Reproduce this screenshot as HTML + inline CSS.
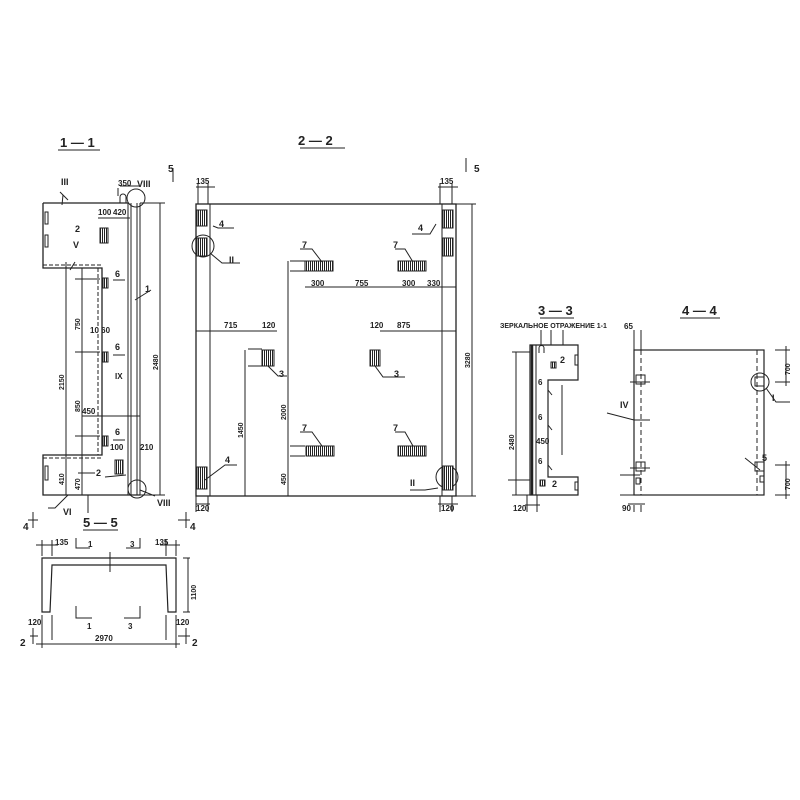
<!DOCTYPE html>
<html><head><meta charset="utf-8"><style>
html,body{margin:0;padding:0;background:#fff}
svg{display:block}
text{font-family:"Liberation Sans",sans-serif;font-weight:bold;fill:#222}
</style></head><body>
<svg width="800" height="800" viewBox="0 0 800 800" xmlns="http://www.w3.org/2000/svg">
<defs>
<pattern id="h" width="2" height="4" patternUnits="userSpaceOnUse"><rect width="2" height="4" fill="#fff"/><line x1="0.5" y1="0" x2="0.5" y2="4" stroke="#222" stroke-width="1"/></pattern>
</defs>
<g stroke="#222" stroke-width="1" fill="none">
<!-- 1-1 -->
<line x1="58" y1="150" x2="100" y2="150"/>
<path d="M43 203 H128 M43 203 V268 H102 V455 H43 V495 H140" stroke-width="1.3"/>
<line x1="98" y1="268" x2="98" y2="455" stroke-dasharray="4 2"/>
<line x1="43" y1="265" x2="102" y2="265" stroke-dasharray="4 2"/>
<line x1="43" y1="458" x2="102" y2="458" stroke-dasharray="4 2"/>
<line x1="128" y1="203" x2="128" y2="495"/><line x1="131" y1="203" x2="131" y2="495"/>
<line x1="137" y1="203" x2="137" y2="495"/><line x1="140" y1="203" x2="140" y2="495"/>
<circle cx="136" cy="198" r="9"/><circle cx="137" cy="489" r="9"/>
<path d="M120 203 v-6 a3 3 0 0 1 6 0 v6"/>
<rect x="45" y="212" width="3" height="12"/><rect x="45" y="235" width="3" height="12"/><rect x="45" y="466" width="3" height="14"/>
<rect x="100" y="228" width="8" height="15" fill="url(#h)"/>
<rect x="115" y="460" width="8" height="14" fill="url(#h)"/>
<rect x="103" y="278" width="5" height="10" fill="url(#h)"/><rect x="103" y="352" width="5" height="10" fill="url(#h)"/><rect x="103" y="436" width="5" height="10" fill="url(#h)"/>
<line x1="66" y1="262" x2="66" y2="495"/><line x1="82" y1="268" x2="82" y2="495"/>
<line x1="160" y1="203" x2="160" y2="495"/>
<line x1="140" y1="203" x2="165" y2="203"/><line x1="140" y1="495" x2="165" y2="495"/>
<line x1="63" y1="195" x2="62" y2="205"/><path d="M60 192 l8 8 M118 196 V188"/>
<line x1="120" y1="186" x2="140" y2="186"/><line x1="98" y1="218" x2="130" y2="218"/>
<line x1="75" y1="279" x2="100" y2="279"/><line x1="75" y1="352" x2="100" y2="352"/><line x1="75" y1="436" x2="100" y2="436"/>
<line x1="82" y1="416" x2="140" y2="416"/>
<path d="M113 280 H125 M113 355 H125 M113 440 H125 M135 300 L151 290 M78 473 L95 473 M126 475 L105 477 M140 490 L155 496 M68 495 L55 508 L48 508 M75 262 L70 270 M88 513 V495"/>
<!-- 2-2 -->
<line x1="300" y1="148" x2="345" y2="148"/>
<rect x="196" y="204" width="260" height="292" stroke-width="1.3"/>
<line x1="210" y1="204" x2="210" y2="496"/><line x1="442" y1="204" x2="442" y2="496"/>
<circle cx="203" cy="246" r="11"/><circle cx="447" cy="477" r="11"/>
<rect x="197" y="210" width="10" height="16" fill="url(#h)"/><rect x="197" y="238" width="10" height="18" fill="url(#h)"/>
<rect x="197" y="467" width="10" height="22" fill="url(#h)"/>
<rect x="443" y="210" width="10" height="18" fill="url(#h)"/><rect x="443" y="238" width="10" height="18" fill="url(#h)"/><rect x="443" y="466" width="10" height="24" fill="url(#h)"/>
<rect x="305" y="261" width="28" height="10" fill="url(#h)"/><rect x="398" y="261" width="28" height="10" fill="url(#h)"/>
<rect x="306" y="446" width="28" height="10" fill="url(#h)"/><rect x="398" y="446" width="28" height="10" fill="url(#h)"/>
<rect x="262" y="350" width="12" height="16" fill="url(#h)"/><rect x="370" y="350" width="10" height="16" fill="url(#h)"/>
<line x1="472" y1="204" x2="472" y2="496"/><line x1="456" y1="204" x2="476" y2="204"/><line x1="456" y1="496" x2="476" y2="496"/>
<line x1="288" y1="261" x2="288" y2="496"/><line x1="245" y1="350" x2="245" y2="496"/>
<line x1="305" y1="287" x2="456" y2="287"/><line x1="196" y1="331" x2="277" y2="331"/><line x1="380" y1="331" x2="456" y2="331"/>
<line x1="248" y1="349" x2="262" y2="349"/><line x1="248" y1="366" x2="262" y2="366"/>
<line x1="290" y1="261" x2="305" y2="261"/><line x1="290" y1="271" x2="305" y2="271"/><line x1="290" y1="446" x2="305" y2="446"/><line x1="290" y1="456" x2="305" y2="456"/>
<path d="M196 187 H215 M438 187 H458 M196 504 H210 M438 504 H458 M198 183 V204 M208 183 V204 M440 183 V204 M452 183 V204 M196 496 V512 M208 496 V512 M440 496 V512 M452 496 V512"/>
<path d="M213 226 L218 228 H234 M210 253 L222 263 H240 M205 480 L225 465 H237 M436 224 L430 234 H412 M438 488 L425 490 H410 M300 249 H312 L322 262 M395 249 H405 L413 262 M300 432 H312 L322 446 M395 432 H405 L413 446 M268 366 L278 376 H287 M375 366 L383 377 H405"/>
<line x1="173" y1="168" x2="173" y2="182"/><line x1="466" y1="158" x2="466" y2="172"/>
<!-- 3-3 -->
<line x1="540" y1="318" x2="574" y2="318"/>
<path d="M530 345 H578 V380 H548 V477 H578 V495 H530 Z" stroke-width="1.2"/>
<line x1="532" y1="345" x2="532" y2="495" stroke-width="2.5"/>
<line x1="536" y1="345" x2="536" y2="495"/>
<path d="M539 353 v-5 a2.5 2.5 0 0 1 5 0 v5"/>
<rect x="551" y="362" width="5" height="6" fill="url(#h)"/><rect x="540" y="480" width="5" height="6" fill="url(#h)"/>
<rect x="575" y="355" width="3" height="10"/><rect x="575" y="482" width="3" height="8"/>
<line x1="516" y1="352" x2="516" y2="495"/><line x1="562" y1="385" x2="562" y2="455"/>
<path d="M512 352 H530 M512 495 H530 M508 480 H530 M527 495 V512 M537 495 V512 M525 505 H540 M541 330 V345 M551 330 V345 M563 330 V345 M548 390 L552 395 M548 425 L552 430 M548 465 L552 470"/>
<!-- 4-4 -->
<line x1="680" y1="318" x2="720" y2="318"/>
<rect x="634" y="350" width="130" height="145" stroke-width="1.2"/>
<line x1="641" y1="350" x2="641" y2="495" stroke-dasharray="5 3"/><line x1="757" y1="350" x2="757" y2="495" stroke-dasharray="5 3"/>
<circle cx="760" cy="382" r="9"/>
<rect x="636" y="375" width="9" height="9"/><rect x="755" y="377" width="9" height="9"/>
<rect x="636" y="462" width="9" height="9"/><rect x="755" y="462" width="9" height="9"/>
<rect x="636" y="478" width="4" height="6"/><rect x="760" y="476" width="4" height="6"/>
<path d="M775 350 H790 M775 382 H790 M775 465 H790 M775 495 H790 M786 346 V386 M786 461 V499 M630 382 H650 M630 468 H650 M620 475 H640 M620 495 H634 M634 505 V512 M641 505 V512 M628 504 H645 M634 330 V350 M641 330 V350 M607 413 L634 420 H650 M766 388 L776 402 H790 M745 458 L760 470"/>
<!-- 5-5 -->
<line x1="83" y1="530" x2="118" y2="530"/>
<path d="M42 558 H176 V612 H168 L166 565 H52 L50 612 H42 Z" stroke-width="1.2"/>
<path d="M42 540 V556 M52 540 V556 M166 540 V556 M176 540 V556 M36 545 H58 M160 545 H180 M110 552 V572 M36 644 H180 M42 615 V648 M52 615 V640 M166 615 V640 M176 615 V648 M183 558 H190 M183 612 H190 M188 558 V612 M76 538 V548 H90 M140 538 V548 H126 M76 606 V618 H92 M140 606 V618 H124 M28 520 H38 M30 636 H38 M178 520 H190 M178 636 H190 M33 512 V528 M33 628 V644 M186 512 V528 M186 628 V644"/>
</g>
<g font-size="8">
<text x="60" y="147" font-size="13">1 — 1</text>
<text x="298" y="145" font-size="13">2 — 2</text>
<text x="538" y="315" font-size="13">3 — 3</text>
<text x="682" y="315" font-size="13">4 — 4</text>
<text x="83" y="527" font-size="13">5 — 5</text>
<text x="61" y="185" font-size="9">III</text><text x="137" y="187" font-size="9">VIII</text>
<text x="118" y="186">350</text><text x="113" y="215">420</text><text x="98" y="215">100</text>
<text x="75" y="232" font-size="9">2</text><text x="73" y="248" font-size="9">V</text>
<text x="115" y="277" font-size="9">6</text><text x="115" y="350" font-size="9">6</text><text x="115" y="435" font-size="9">6</text>
<text x="145" y="292" font-size="9">1</text><text x="115" y="379">IX</text>
<text x="90" y="333">10  60</text><text x="82" y="414">450</text><text x="110" y="450">100</text><text x="140" y="450">210</text>
<text x="96" y="476" font-size="9">2</text><text x="63" y="515" font-size="9">VI</text><text x="157" y="506" font-size="9">VIII</text>
<text x="168" y="172" font-size="10">5</text><text x="474" y="172" font-size="10">5</text>
<text x="196" y="184">135</text><text x="440" y="184">135</text>
<text x="219" y="227" font-size="9">4</text><text x="229" y="263" font-size="9">II</text><text x="225" y="463" font-size="9">4</text>
<text x="418" y="231" font-size="9">4</text><text x="410" y="486" font-size="9">II</text>
<text x="302" y="248" font-size="9">7</text><text x="393" y="248" font-size="9">7</text><text x="302" y="431" font-size="9">7</text><text x="393" y="431" font-size="9">7</text>
<text x="311" y="286">300</text><text x="355" y="286">755</text><text x="402" y="286">300</text><text x="427" y="286">330</text>
<text x="224" y="328">715</text><text x="262" y="328">120</text><text x="370" y="328">120</text><text x="397" y="328">875</text>
<text x="279" y="377" font-size="9">3</text><text x="394" y="377" font-size="9">3</text>
<text x="196" y="511">120</text><text x="441" y="511">120</text>
<text x="500" y="328" font-size="7">ЗЕРКАЛЬНОЕ ОТРАЖЕНИЕ 1-1</text>
<text x="560" y="363" font-size="9">2</text><text x="552" y="487" font-size="9">2</text>
<text x="538" y="385" font-size="8">6</text><text x="538" y="420" font-size="8">6</text><text x="538" y="464" font-size="8">6</text>
<text x="536" y="444">450</text><text x="513" y="511">120</text>
<text x="624" y="329">65</text><text x="620" y="408" font-size="9">IV</text><text x="772" y="401" font-size="9">I</text>
<text x="762" y="461" font-size="9">5</text><text x="622" y="511">90</text>
<text x="55" y="545">135</text><text x="155" y="545">135</text><text x="88" y="547">1</text><text x="130" y="547">3</text>
<text x="87" y="629">1</text><text x="128" y="629">3</text>
<text x="28" y="625">120</text><text x="176" y="625">120</text><text x="95" y="641">2970</text>
<text x="23" y="530" font-size="10">4</text><text x="190" y="530" font-size="10">4</text>
<text x="20" y="646" font-size="10">2</text><text x="192" y="646" font-size="10">2</text>
</g>
<g font-size="7" font-family="Liberation Sans">
<text transform="translate(64,390) rotate(-90)">2150</text>
<text transform="translate(80,330) rotate(-90)">750</text>
<text transform="translate(80,412) rotate(-90)">850</text>
<text transform="translate(158,370) rotate(-90)">2480</text>
<text transform="translate(80,490) rotate(-90)">470</text>
<text transform="translate(64,485) rotate(-90)">410</text>
<text transform="translate(470,368) rotate(-90)">3280</text>
<text transform="translate(286,420) rotate(-90)">2000</text>
<text transform="translate(243,438) rotate(-90)">1450</text>
<text transform="translate(286,485) rotate(-90)">450</text>
<text transform="translate(514,450) rotate(-90)">2480</text>
<text transform="translate(790,375) rotate(-90)">700</text>
<text transform="translate(790,490) rotate(-90)">700</text>
<text transform="translate(196,600) rotate(-90)">1100</text>
</g>
</svg>
</body></html>
